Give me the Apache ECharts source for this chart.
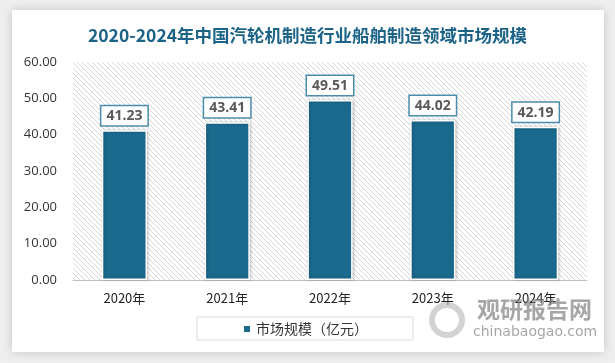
<!DOCTYPE html>
<html><head><meta charset="utf-8">
<script src="https://cdn.jsdelivr.net/npm/echarts@6/dist/echarts.min.js"></script>
<style>html,body{margin:0;padding:0;background:#efefef;}#c{width:615px;height:363px;}</style>
</head><body><div id="c"></div>
<script>
const categories = ['2020年','2021年','2022年','2023年','2024年'];
const values = [41.23, 43.41, 49.51, 44.02, 42.19];
const seriesName = '市场规模（亿元）';
const titleText = '2020-2024年中国汽轮机制造行业船舶制造领域市场规模';

const pc = document.createElement('canvas');
pc.width = 5; pc.height = 5;
const g = pc.getContext('2d');
g.fillStyle = '#ffffff'; g.fillRect(0,0,5,5);
g.strokeStyle = '#d6d6d6'; g.lineWidth = 1;
g.beginPath();
g.moveTo(-1,-1); g.lineTo(6,6);
g.moveTo(-1,4); g.lineTo(1,6);
g.moveTo(4,-1); g.lineTo(6,1);
g.stroke();

const fontCJK = '"Noto Sans CJK SC", "Open Sans", sans-serif';
const chart = echarts.init(document.getElementById('c'), null, {renderer:'canvas'});
chart.setOption({
  animation: false,
  backgroundColor: '#efefef',
  graphic: [
    {type:'rect', z:-10, shape:{x:12,y:10,width:592,height:342},
     style:{fill:'#ffffff', shadowBlur:10, shadowColor:'rgba(0,0,0,0.18)'}},
    {type:'text', z:10, left:477, top:298,
     style:{text:'观研报告网', fill:'rgba(128,128,128,0.7)', font:'bold 23px "Noto Sans CJK SC", sans-serif'}},
    {type:'text', z:10, left:473, top:325,
     style:{text:'chinabaogao.com', fill:'rgba(128,128,128,0.7)', font:'14px "DejaVu Sans", sans-serif'}},
    {type:'circle', z:10, shape:{cx:447,cy:320,r:15},
     style:{fill:'none', stroke:'rgba(175,175,175,0.55)', lineWidth:6}}
  ],
  title: {
    text: titleText, left: 'center', top: 22,
    textStyle: {color:'#1c6387', fontSize:17.5, fontWeight:'bold', fontFamily: fontCJK}
  },
  legend: {
    left: 197, top: 317, itemWidth: 8, itemHeight: 8, itemGap: 10,
    padding: [5, 45, 4, 45], borderColor: '#d9d9d9', borderWidth: 1,
    icon: 'rect',
    textStyle: {fontSize: 14, color:'#333', fontFamily: fontCJK}
  },
  grid: {
    left: 73, right: 28, top: 62, bottom: 83, show: true, borderWidth: 0,
    backgroundColor: {image: pc, repeat: 'repeat'}
  },
  xAxis: {
    type: 'category', data: categories,
    axisLine: {lineStyle: {color:'#bfbfbf'}},
    axisTick: {show:false},
    axisLabel: {color:'#222', fontSize:13, margin:12, fontFamily: fontCJK}
  },
  yAxis: {
    type: 'value', min: 0, max: 60, interval: 10,
    splitLine: {show:false},
    axisLine: {show:false}, axisTick: {show:false},
    axisLabel: {color:'#333', fontSize:13, margin:16, fontFamily:'"Open Sans", sans-serif',
      formatter: v => v.toFixed(2)}
  },
  series: [{
    name: seriesName, type: 'bar', data: values, barWidth: '44%',
    itemStyle: {color:'#1a6a8e', borderColor:'#ffffff', borderWidth:1.5,
      shadowBlur:3, shadowColor:'rgba(0,0,0,0.25)', shadowOffsetX:1},
    label: {
      show: true, position: 'top', distance: 5,
      formatter: p => p.value.toFixed(2),
      color:'#595959', fontSize:14, fontWeight:'bold', fontFamily:'"Open Sans", sans-serif',
      backgroundColor:'#ffffff', borderColor:'#4b8cab', borderWidth:1.5,
      padding:[3,5,2,5]
    }
  }]
});
</script></body></html>
